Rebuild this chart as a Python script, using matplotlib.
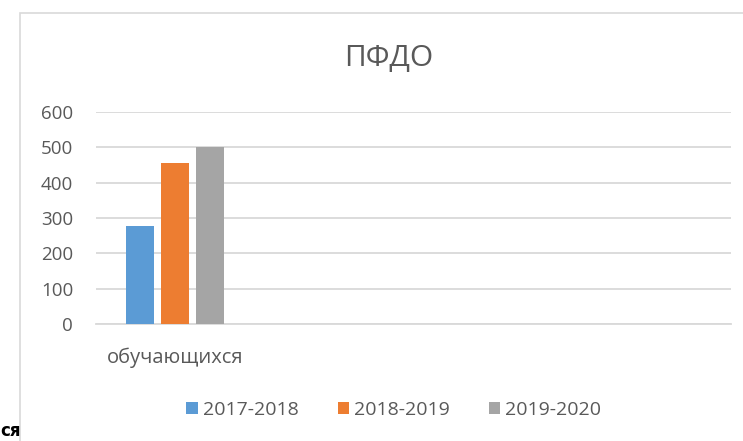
import numpy as np
import matplotlib.pyplot as plt
from matplotlib.patches import Rectangle

categories = ['обучающихся', '', '', '']
series = ['2017-2018', '2018-2019', '2019-2020']
values_2017 = [277, np.nan, np.nan, np.nan]
values_2018 = [456, np.nan, np.nan, np.nan]
values_2019 = [500, np.nan, np.nan, np.nan]
colors = ['#5b9bd5', '#ed7d31', '#a5a5a5']

plt.rcParams['font.family'] = ['Open Sans', 'DejaVu Sans']
txt = '#595959'

fig = plt.figure(figsize=(7.43, 4.41), dpi=100)
ax = fig.add_axes([96 / 743, 1 - 324 / 441, (731 - 96) / 743, (324 - 112) / 441])

x = np.arange(len(categories))
w = 0.176
step = 0.22
for i, (vals, name) in enumerate(zip([values_2017, values_2018, values_2019], series)):
    ax.bar(x + (i - 1) * step, vals, width=w, color=colors[i], label=name, zorder=3)

ax.set_xlim(-0.5, len(categories) - 0.5)
ax.set_ylim(0, 600)
ax.set_yticks(range(0, 601, 100))
ax.set_xticks(x)
ax.set_xticklabels(categories)
ax.tick_params(length=0, labelsize=13.5, colors=txt)
ax.tick_params(axis='x', labelsize=14.5, pad=17)
ax.tick_params(axis='y', pad=16.5)
ax.grid(axis='y', color='#d9d9d9', linewidth=1.3, zorder=0)
for s in ['top', 'right', 'left']:
    ax.spines[s].set_visible(False)
ax.spines['bottom'].set_color('#d9d9d9')
ax.spines['bottom'].set_linewidth(1.3)

fig.text(389 / 743, 1 - 58 / 441, 'ПФДО', ha='center', va='center', fontsize=21.5, color=txt)

ax.legend(loc='center', bbox_to_anchor=(0.53, 1 - 410 / 441), bbox_transform=fig.transFigure,
          ncol=3, frameon=False, fontsize=14, handlelength=0.6, handleheight=0.6,
          handletextpad=0.25, columnspacing=2.0, labelcolor=txt)

# chart frame (extends past the picture edges)
fig.patches.append(Rectangle((20 / 743, -0.1), 1.1, 1 - 13 / 441 + 0.1, transform=fig.transFigure,
                             fill=False, edgecolor='#d9d9d9', linewidth=1.2))
fig.text(0.0, 0.002, 'ся', fontsize=12, fontweight='bold', color='black',
         family='DejaVu Sans', va='bottom')

fig.savefig('out.png', dpi=100)
